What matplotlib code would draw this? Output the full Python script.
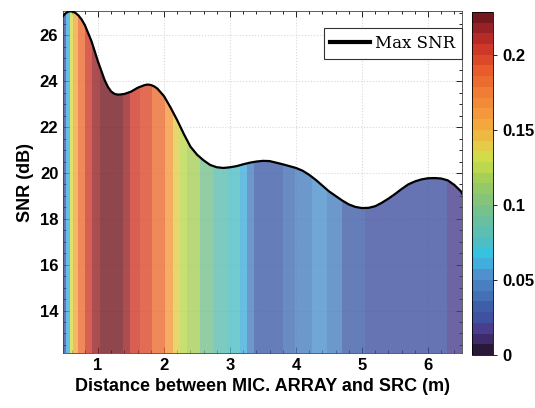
import numpy as np
import matplotlib
matplotlib.use("Agg")
import matplotlib.pyplot as plt
from matplotlib.colors import LinearSegmentedColormap, Normalize
from matplotlib.ticker import MultipleLocator
from matplotlib.lines import Line2D
import matplotlib.cm as cm

plt.rcParams['font.family'] = ['Liberation Sans', 'DejaVu Sans']
plt.rcParams['font.weight'] = 'bold'

# max SNR curve (distance in m, SNR in dB)
dist = [0.47, 0.50, 0.55, 0.60, 0.65, 0.70, 0.75, 0.80, 0.85, 0.90, 0.95, 1.00,
        1.05, 1.10, 1.15, 1.20, 1.25, 1.30, 1.35, 1.40, 1.50, 1.60, 1.70, 1.75,
        1.80, 1.85, 1.90, 2.00, 2.10, 2.20, 2.30, 2.40, 2.50, 2.60, 2.70, 2.80,
        2.90, 3.00, 3.10, 3.20, 3.30, 3.40, 3.50, 3.60, 3.70, 3.80, 3.90, 4.00,
        4.10, 4.20, 4.30, 4.40, 4.50, 4.60, 4.70, 4.80, 4.90, 5.00, 5.10, 5.20,
        5.30, 5.40, 5.50, 5.60, 5.70, 5.80, 5.90, 6.00, 6.10, 6.20, 6.30, 6.40,
        6.50, 6.52]
snr = [26.85, 26.95, 27.05, 27.05, 27.00, 26.88, 26.70, 26.45, 26.10, 25.75, 25.30, 24.85,
       24.45, 24.05, 23.75, 23.55, 23.45, 23.42, 23.43, 23.45, 23.55, 23.72, 23.83, 23.86,
       23.84, 23.78, 23.68, 23.35, 22.85, 22.30, 21.70, 21.15, 20.80, 20.55, 20.35, 20.25,
       20.22, 20.25, 20.30, 20.38, 20.45, 20.50, 20.53, 20.52, 20.45, 20.38, 20.30, 20.22,
       20.10, 19.92, 19.70, 19.45, 19.20, 19.00, 18.80, 18.63, 18.52, 18.47, 18.48, 18.55,
       18.70, 18.88, 19.08, 19.30, 19.50, 19.63, 19.72, 19.77, 19.78, 19.76, 19.68, 19.48,
       19.20, 19.10]

# colour strips under the curve (bin edges in m, value per bin)
bin_edges = [0.47, 0.515, 0.576, 0.62, 0.70, 0.80, 0.91, 1.03, 1.38, 1.48, 1.64,
             1.82, 2.02, 2.14, 2.24, 2.35, 2.55, 2.74, 2.95, 3.15, 3.26, 3.36,
             3.45, 3.80, 3.98, 4.24, 4.47, 4.70, 4.85, 5.05, 6.29, 6.52]
bin_vals = [0.022, 0.058, 0.13, 0.155, 0.185, 0.205, 0.215, 0.226, 0.215, 0.205,
            0.195, 0.18, 0.16, 0.14, 0.128, 0.115, 0.10, 0.085, 0.075, 0.058,
            0.048, 0.035, 0.029, 0.040, 0.045, 0.053, 0.045, 0.035, 0.029, 0.026,
            0.017]

anchors = [(0.0, '#2a1838'), (0.03, '#3d2a66'), (0.06, '#4a3a8c'), (0.095, '#40509f'),
           (0.13, '#3f5ea9'), (0.16, '#4470b5'), (0.20, '#4a82c2'), (0.23, '#4f94cf'),
           (0.26, '#40b0de'), (0.28, '#2ec3e6'), (0.31, '#47bfcc'), (0.35, '#5abfb4'),
           (0.40, '#6fbf97'), (0.45, '#84c47a'), (0.50, '#9ccb5e'), (0.55, '#bcd84e'),
           (0.58, '#d2dc48'), (0.62, '#e6c848'), (0.66, '#f2b040'), (0.72, '#f4943a'),
           (0.78, '#f07a34'), (0.84, '#e85a2c'), (0.88, '#d94428'), (0.92, '#c43028'),
           (0.96, '#a02426'), (1.0, '#741820')]
cmap = LinearSegmentedColormap.from_list('snrmap', anchors, N=32)
norm = Normalize(vmin=0, vmax=0.229)

fig = plt.figure(figsize=(5.35, 4.08), dpi=100)
ax = fig.add_axes([0.118, 0.135, 0.746, 0.837])
cax = fig.add_axes([0.882, 0.130, 0.040, 0.841])

ylo, yhi = 12.15, 27.05
mesh = ax.pcolormesh(bin_edges, [ylo, 28], np.array(bin_vals)[None, :],
                     cmap=cmap, norm=norm, alpha=0.8, shading='flat', zorder=1)
poly = ax.fill_between(dist, snr, ylo - 1, color='none', lw=0)
clip = poly.get_paths()[0]
mesh.set_clip_path(clip, ax.transData)
ax.plot(dist, snr, color='k', lw=1.6, zorder=3)

ax.set_xlim(0.47, 6.52)
ax.set_ylim(ylo, yhi)
ax.xaxis.set_major_locator(MultipleLocator(1))
ax.xaxis.set_minor_locator(MultipleLocator(0.2))
ax.yaxis.set_major_locator(MultipleLocator(2))
ax.yaxis.set_minor_locator(MultipleLocator(0.5))
ax.tick_params(which='both', direction='in', top=True, right=True, labelsize=12, width=0.6)
ax.tick_params(which='major', length=4)
ax.tick_params(which='minor', length=2)
ax.set_axisbelow(True)
ax.grid(True, color='#d8d8d8', linestyle=':', lw=0.8)
for s in ax.spines.values():
    s.set_linewidth(0.6)
    s.set_color('#444444')

ax.set_xlabel('Distance between MIC. ARRAY and SRC (m)', fontsize=13, fontweight='bold', labelpad=4)
ax.set_ylabel('SNR (dB)', fontsize=13, fontweight='bold', labelpad=4)

h = Line2D([], [], color='k', lw=3)
leg = ax.legend([h], ['Max SNR'], loc='upper right', bbox_to_anchor=(1.0, 0.95),
                borderaxespad=0, fancybox=False, framealpha=1, edgecolor='#333333',
                handlelength=2.4, handletextpad=0.3, borderpad=0.4,
                prop={'family': 'DejaVu Serif', 'size': 12, 'weight': 'normal'})
leg.get_frame().set_linewidth(0.8)

sm = cm.ScalarMappable(norm=norm, cmap=cmap)
cb = fig.colorbar(sm, cax=cax, ticks=[0, 0.05, 0.1, 0.15, 0.2])
cb.ax.set_yticklabels(['0', '0.05', '0.1', '0.15', '0.2'])
cb.ax.tick_params(labelsize=12, length=3, width=0.6)
cb.outline.set_linewidth(0.6)

fig.savefig('out.png', dpi=100)
